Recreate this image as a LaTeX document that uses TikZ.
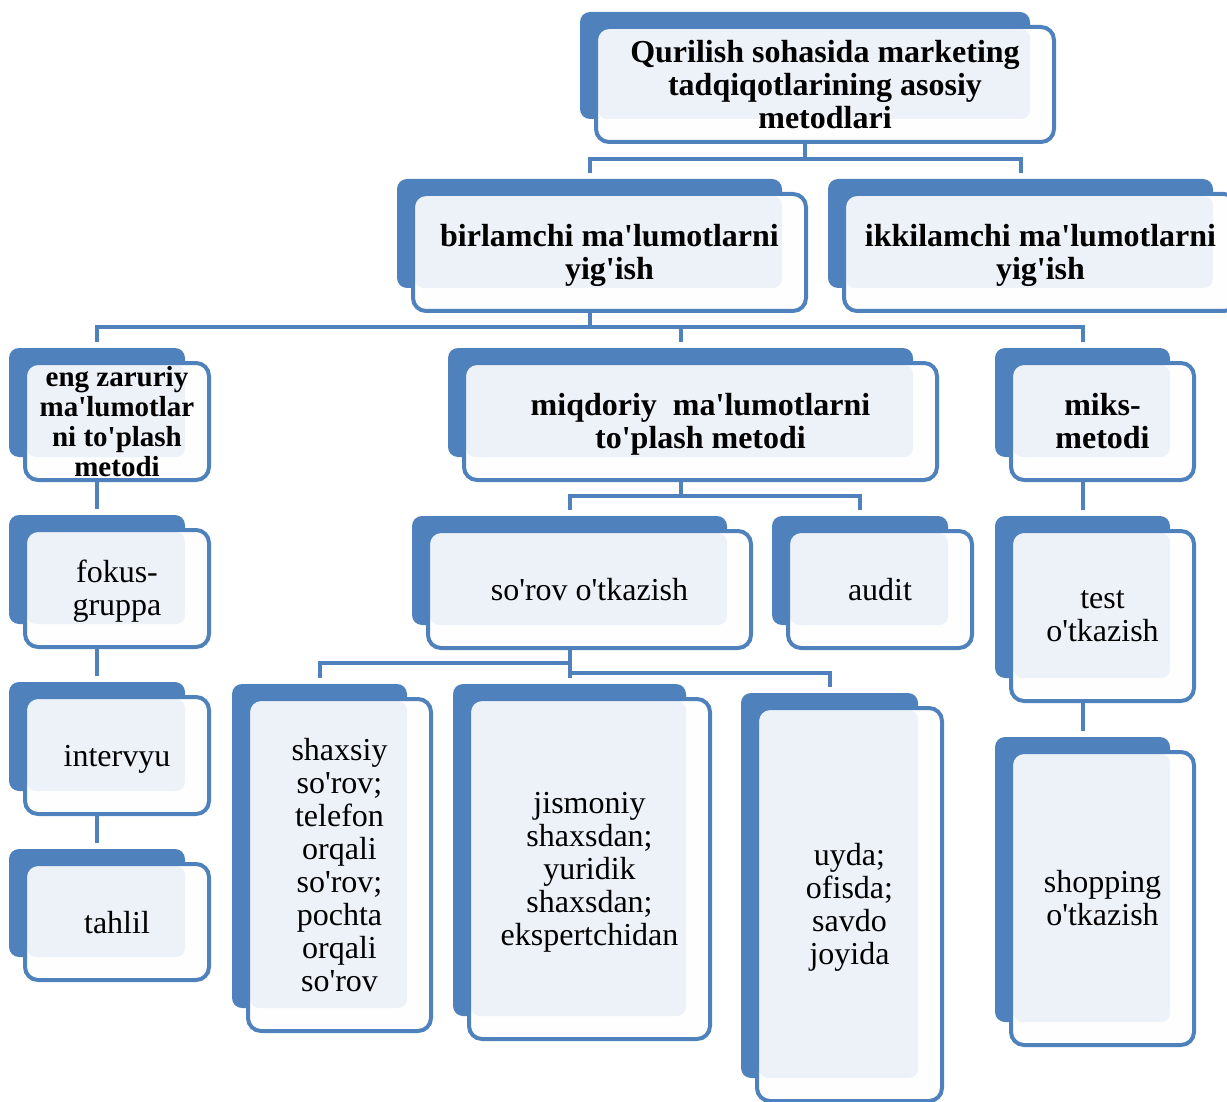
\documentclass[tikz,border=0pt]{standalone}
\usepackage{fontspec}
\setmainfont{Liberation Serif}
\usetikzlibrary{backgrounds}
\definecolor{sblue}{HTML}{4F81BD}
\definecolor{slight}{HTML}{EDF2F9}
\definecolor{swhite}{HTML}{FEFEFE}
\newcommand\ap{\textquotesingle}
\newcommand\dbox[7]{%
  \pgfmathsetmacro\dbW{#4-#2}\pgfmathsetmacro\dbH{#5-#3}%
  \node[backbox, minimum width=\dbW pt, minimum height=\dbH pt] (#1B) at ({(#2+#4)/2},{(#3+#5)/2}) {};
  \fill[swhite, rounded corners=13pt] (#2+16,#3+15) rectangle (#4+24,#5+23);
  \fill[slight, rounded corners=9pt] (#2+18,#3+17) rectangle (#4,#5);
  \pgfmathsetmacro\dfW{#4+8-#2}\pgfmathsetmacro\dfH{#5+8-#3}%
  \node[frontbox, minimum width=\dfW pt, minimum height=\dfH pt] (#1) at ({(#2+#4)/2+20},{(#3+#5)/2+19}) {};
  \node[boxtext, #6] (#1T) at ([yshift=-4.5pt]#1.center) {#7};
}
\begin{document}
\begin{tikzpicture}[x=1pt,y=-1pt,
  backbox/.style={fill=sblue, draw=none, rounded corners=10pt, inner sep=0pt, outer sep=0pt},
  frontbox/.style={draw=sblue, line width=4pt, rounded corners=13pt, inner sep=0pt, outer sep=0pt},
  boxtext/.style={inner sep=0pt, outer sep=0pt, align=center, font=\fontsize{32}{33}\selectfont,
    execute at begin node=\strut, execute at end node=\strut},
  boldtxt/.style={font=\fontsize{32}{33}\selectfont\bfseries},
  smallbold/.style={font=\fontsize{29}{30}\selectfont\bfseries},
  conn/.style={draw=sblue, line width=4pt, shorten >=6pt}]
\useasboundingbox (0,0) rectangle (1227,1102);
\clip (0,0) rectangle (1227,1102);

\dbox{top}{580}{12}{1030}{119}{boldtxt}{Qurilish sohasida marketing\\tadqiqotlarining asosiy\\metodlari}
\dbox{bir}{397}{179}{782}{288}{boldtxt}{birlamchi ma\ap lumotlarni\\yig\ap ish}
\dbox{ikk}{828}{179}{1213}{288}{boldtxt}{ikkilamchi ma\ap lumotlarni\\yig\ap ish}
\dbox{eng}{9}{348}{185}{457}{smallbold}{eng zaruriy\\ma\ap lumotlar\\ni to\ap plash\\metodi}
\dbox{miq}{448}{348}{913}{457}{boldtxt}{miqdoriy\ \ ma\ap lumotlarni\\to\ap plash metodi}
\dbox{mik}{995}{348}{1170}{457}{boldtxt}{miks-\\metodi}
\dbox{fok}{9}{515}{185}{624}{}{fokus-\\gruppa}
\dbox{sor}{412}{516}{727}{625}{}{so\ap rov o\ap tkazish}
\dbox{aud}{772}{516}{948}{625}{}{audit}
\dbox{tst}{995}{516}{1170}{678}{}{test\\o\ap tkazish}
\dbox{int}{9}{682}{185}{791}{}{intervyu}
\dbox{tah}{9}{849}{185}{957}{}{tahlil}
\dbox{shx}{232}{684}{407}{1008}{}{shaxsiy\\so\ap rov;\\telefon\\orqali\\so\ap rov;\\pochta\\orqali\\so\ap rov}
\dbox{jis}{453}{684}{686}{1016}{}{jismoniy\\shaxsdan;\\yuridik\\shaxsdan;\\ekspertchidan}
\dbox{uyd}{741}{693}{918}{1078}{}{uyda;\\ofisda;\\savdo\\joyida}
\dbox{shp}{995}{737}{1170}{1022}{}{shopping\\o\ap tkazish}

\begin{scope}[on background layer]
\draw[conn] (topB.center) -- (topB.center |- 0,159) -| (birB.north);
\draw[conn] (topB.center |- 0,159) -| (ikkB.north);
\draw[conn] (birB.center) -- (birB.center |- 0,327) -| (engB.north);
\draw[conn] (birB.center |- 0,327) -| (miqB.north);
\draw[conn] (birB.center |- 0,327) -| (mikB.north);
\draw[conn] (miqB.center) -- (miqB.center |- 0,496) -| (sorB.north);
\draw[conn] (miqB.center |- 0,496) -| (audB.north);
\draw[conn] (sorB.center) -- (sorB.center |- 0,663) -| (shxB.north);
\draw[conn] (sorB.center |- 0,663) -- (sorB.center |- 0,673) -| (uydB.north);
\draw[conn] (sorB.center) -- (sorB.center |- jisB.north);
\draw[conn] (engB.center) -- (fokB.north);
\draw[conn] (fokB.center) -- (intB.north);
\draw[conn] (intB.center) -- (tahB.north);
\draw[conn] (mikB.center) -- (tstB.north);
\draw[conn] (tstB.center) -- (shpB.north);
\end{scope}
\end{tikzpicture}
\end{document}
